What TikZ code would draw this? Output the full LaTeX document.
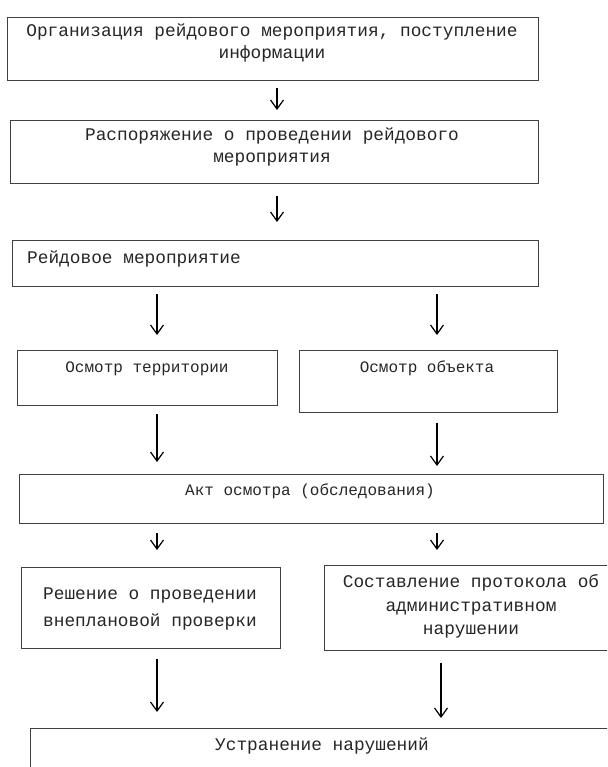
\documentclass[tikz,border=0pt]{standalone}
\usepackage{fontspec}
\setmonofont{Liberation Mono}
\usetikzlibrary{arrows.meta}
\begin{document}
\begin{tikzpicture}[x=1pt,y=-1pt,
  box/.style={draw=black!75, line width=1.3pt, inner sep=0pt},
  txt/.style={inner sep=0pt, text=black!85, font=\ttfamily\fontsize{17.8}{22}\selectfont},
  txts/.style={inner sep=0pt, text=black!85, font=\ttfamily\fontsize{16}{20}\selectfont},
  arr/.style={line width=1.2pt, black, -{Straight Barb[length=9pt,width=13pt,line width=1.2pt]}}]
\useasboundingbox (0,0) rectangle (607,767);
\clip (0,0) rectangle (607,767);
\fill[white] (0,0) rectangle (607,767);
% boxes
\node[box, minimum width=531pt, minimum height=63pt, anchor=north west] (b1) at (7,17) {};
\node[box, minimum width=528pt, minimum height=63pt, anchor=north west] (b2) at (10,120) {};
\node[box, minimum width=526pt, minimum height=46pt, anchor=north west] (b3) at (12,240) {};
\node[box, minimum width=260pt, minimum height=55pt, anchor=north west] (b4) at (17,350) {};
\node[box, minimum width=258pt, minimum height=62pt, anchor=north west] (b5) at (299,350) {};
\node[box, minimum width=584pt, minimum height=49pt, anchor=north west] (b6) at (19,474) {};
\node[box, minimum width=259pt, minimum height=81pt, anchor=north west] (b7) at (21,567) {};
\node[box, minimum width=300pt, minimum height=85pt, anchor=north west] (b8) at (324,565) {};
\node[box, minimum width=600pt, minimum height=80pt, anchor=north west] (b9) at (30,728) {};
% texts
\node[txt, anchor=base] (t1a) at (272,37) {Организация рейдового мероприятия, поступление};
\node[txt, anchor=base] (t1b) at (272,59) {информации};
\node[txt, anchor=base] (t2a) at (272,141) {Распоряжение о проведении рейдового};
\node[txt, anchor=base] (t2b) at (272,163) {мероприятия};
\node[txt, anchor=base west] (t3) at (27,263) {Рейдовое мероприятие};
\node[txts, anchor=base] (t4) at (147,372) {Осмотр территории};
\node[txts, anchor=base] (t5) at (427,372) {Осмотр объекта};
\node[txts, anchor=base] (t6) at (310,495) {Акт осмотра (обследования)};
\node[txt, anchor=base] (t7a) at (150,599) {Решение о проведении};
\node[txt, anchor=base] (t7b) at (150,626) {внеплановой проверки};
\node[txt, anchor=base] (t8a) at (471,587) {Составление протокола об};
\node[txt, anchor=base] (t8b) at (471,611) {административном};
\node[txt, anchor=base] (t8c) at (471,634) {нарушении};
\node[txt, anchor=base] (t9) at (322,750) {Устранение нарушений};
% arrow columns
\coordinate (cm) at (277,0);
\coordinate (cl) at (157,0);
\coordinate (cr) at (437,0);
\coordinate (cr2) at (441,0);
% arrows
\draw[arr, shorten <=7pt, shorten >=10pt] (b1.south -| cm) -- (b2.north -| cm);
\draw[arr, shorten <=12pt, shorten >=18pt] (b2.south -| cm) -- (b3.north -| cm);
\draw[arr, shorten <=7pt, shorten >=15pt] (b3.south -| cl) -- (b4.north -| cl);
\draw[arr, shorten <=7pt, shorten >=15pt] (b3.south -| cr) -- (b5.north -| cr);
\draw[arr, shorten <=8pt, shorten >=12pt] (b4.south -| cl) -- (b6.north -| cl);
\draw[arr, shorten <=10pt, shorten >=8pt] (b5.south -| cr) -- (b6.north -| cr);
\draw[arr, shorten <=9pt, shorten >=17pt] (b6.south -| cl) -- (b7.north -| cl);
\draw[arr, shorten <=9pt, shorten >=15pt] (b6.south -| cr) -- (b8.north -| cr);
\draw[arr, shorten <=10pt, shorten >=16pt] (b7.south -| cl) -- (b9.north -| cl);
\draw[arr, shorten <=12pt, shorten >=10pt] (b8.south -| cr2) -- (b9.north -| cr2);
\end{tikzpicture}
\end{document}
